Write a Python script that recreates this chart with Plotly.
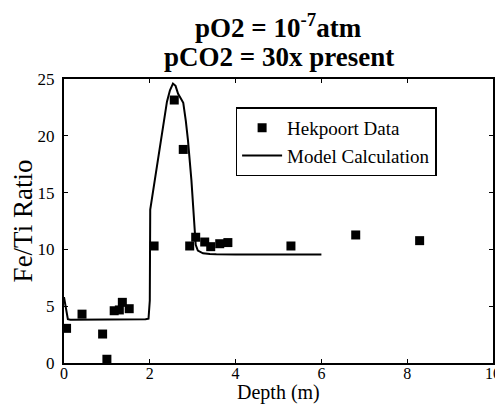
import plotly.graph_objects as go

# Hekpoort data (squares)
data_x = [0.06, 0.42, 0.9, 1.0, 1.17, 1.29, 1.36, 1.52, 2.1, 2.57, 2.78, 2.93, 3.07, 3.28, 3.42, 3.63, 3.82, 5.29, 6.8, 8.29]
data_y = [3.05, 4.3, 2.55, 0.33, 4.6, 4.67, 5.34, 4.78, 10.3, 23.15, 18.8, 10.3, 11.07, 10.65, 10.24, 10.5, 10.6, 10.3, 11.27, 10.77]

# Model calculation (line)
model_x = [0.0, 0.03, 0.05, 0.09, 0.15, 0.5, 1.0, 1.5, 1.9, 1.97, 2.0, 2.01, 2.05, 2.15, 2.31, 2.40, 2.47, 2.54, 2.60, 2.66,
           2.72, 2.78, 2.84, 2.89, 2.97, 3.03, 3.07, 3.12, 3.24, 3.4, 3.55, 4.0, 5.0, 6.0]
model_y = [5.8, 5.0, 4.6, 3.85, 3.8, 3.8, 3.8, 3.82, 3.85, 3.9, 5.5, 13.5, 14.5, 16.7, 21.1, 23.0, 24.0, 24.6, 24.4, 23.7,
           23.3, 22.9, 21.3, 19.6, 16.1, 12.0, 10.4, 9.9, 9.66, 9.6, 9.57, 9.55, 9.55, 9.55]

x_ticks = [0, 2, 4, 6, 8, 10]
y_ticks = [0, 5, 10, 15, 20, 25]

FONT = "Liberation Serif, Times New Roman, serif"

fig = go.Figure()
fig.add_trace(go.Scatter(x=data_x, y=data_y, mode="markers", name="Hekpoort Data",
                         marker=dict(symbol="square", size=9, color="black")))
fig.add_trace(go.Scatter(x=model_x, y=model_y, mode="lines", name="Model Calculation",
                         line=dict(color="black", width=2)))

axis_common = dict(showgrid=False, zeroline=False, showline=True, linecolor="black", linewidth=2,
                   mirror="ticks", ticks="inside", ticklen=4, tickcolor="black", automargin=True,
                   tickfont=dict(family=FONT, size=17, color="black"))

fig.update_xaxes(range=[0, 10], tickvals=x_ticks, **axis_common)
fig.update_xaxes(tickfont=dict(size=16), ticklabelstandoff=-5)
fig.update_yaxes(range=[0, 25], tickvals=y_ticks, **axis_common, ticklabelstandoff=4,
                 title=dict(text="Fe/Ti Ratio", font=dict(family=FONT, size=27, color="black"), standoff=2))

fig.add_annotation(text="Depth (m)", xref="paper", yref="paper", x=0.5, y=0,
                   xanchor="center", yanchor="top", yshift=-16, showarrow=False,
                   font=dict(family=FONT, size=20, color="black"))

fig.add_annotation(text="<b>pO2 = 10<sup>-7</sup>atm</b>", xref="paper", yref="paper", x=0.5, y=1,
                   xanchor="center", yanchor="bottom", yshift=34, showarrow=False,
                   font=dict(family=FONT, size=27, color="black"))
fig.add_annotation(text="<b>pCO2 = 30x present</b>", xref="paper", yref="paper", x=0.5, y=1,
                   xanchor="center", yanchor="bottom", yshift=5, showarrow=False,
                   font=dict(family=FONT, size=27, color="black"))

fig.update_layout(
    width=495, height=397,
    margin=dict(l=56, r=10, t=71, b=42, autoexpand=False),
    paper_bgcolor="white", plot_bgcolor="white",
    showlegend=True,
    legend=dict(x=0.4, y=0.9, xanchor="left", yanchor="top", bgcolor="white",
                bordercolor="black", borderwidth=1.5,
                font=dict(family=FONT, size=19, color="black"),
                itemwidth=40, tracegroupgap=0),
)

fig.write_html("out.html")
